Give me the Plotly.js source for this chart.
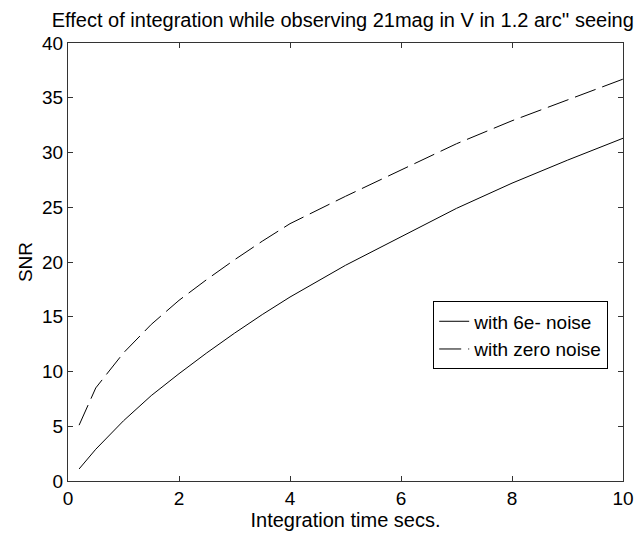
<!DOCTYPE html>
<html>
<head>
<meta charset="utf-8">
<script src="https://cdn.plot.ly/plotly-3.0.1.min.js"></script>
<style>html,body{margin:0;padding:0;background:#fff;}</style>
</head>
<body>
<div id="chart" style="width:636px;height:535px;"></div>
<script>
const timeSecs = [0.2, 0.5, 1, 1.5, 2, 2.5, 3, 3.5, 4, 5, 6, 7, 8, 9, 10];
const snrNoise6e = [1.1, 2.9, 5.5, 7.8, 9.8, 11.7, 13.5, 15.2, 16.8, 19.7, 22.3, 24.9, 27.2, 29.3, 31.3];
const snrZeroNoise = [5.1, 8.5, 11.7, 14.3, 16.5, 18.4, 20.2, 21.9, 23.5, 26.0, 28.4, 30.8, 32.9, 34.8, 36.7];
const seriesNames = ['with 6e- noise', 'with zero noise'];
const xTicks = [0, 2, 4, 6, 8, 10];
const yTicks = [0, 5, 10, 15, 20, 25, 30, 35, 40];

const fontFam = 'Liberation Sans, Arial, sans-serif';
const traces = [
  {x: timeSecs, y: snrNoise6e, name: seriesNames[0], mode: 'lines',
   line: {color: '#000', width: 1}},
  {x: timeSecs, y: snrZeroNoise, name: seriesNames[1], mode: 'lines',
   line: {color: '#000', width: 1, dash: '22px,7px'}}
];
const axisCommon = {
  showline: true, mirror: 'ticks', linecolor: '#333', linewidth: 1,
  ticks: 'inside', ticklen: 5, tickcolor: '#333', tickwidth: 1,
  showgrid: false, zeroline: false,
  tickfont: {family: fontFam, size: 19, color: '#000'}
};
const layout = {
  width: 636, height: 535,
  margin: {l: 68, r: 13, t: 43, b: 54},
  paper_bgcolor: '#fff', plot_bgcolor: '#fff',
  font: {family: fontFam, color: '#000'},
  title: {text: "Effect of integration while observing 21mag in V in 1.2 arc'' seeing",
          font: {family: fontFam, size: 20, color: '#000'},
          x: 0.539, xanchor: 'center', y: 0.963, yanchor: 'middle'},
  xaxis: Object.assign({}, axisCommon, {
    range: [0, 10], tickvals: xTicks, ticktext: xTicks.map(String),
    title: {text: 'Integration time secs.', font: {family: fontFam, size: 20, color: '#000'}, standoff: 2}
  }),
  yaxis: Object.assign({}, axisCommon, {
    range: [0, 40], tickvals: yTicks, ticktext: yTicks.map(String),
    title: {text: 'SNR', font: {family: fontFam, size: 19, color: '#000'}, standoff: 4}
  }),
  showlegend: true,
  legend: {x: 0.658, y: 0.41, xanchor: 'left', yanchor: 'top',
           bordercolor: '#000', borderwidth: 1, bgcolor: '#fff',
           font: {family: fontFam, size: 19, color: '#000'},
           tracegroupgap: 0, itemwidth: 30}
};
Plotly.newPlot('chart', traces, layout, {displayModeBar: false, staticPlot: true});
</script>
</body>
</html>
